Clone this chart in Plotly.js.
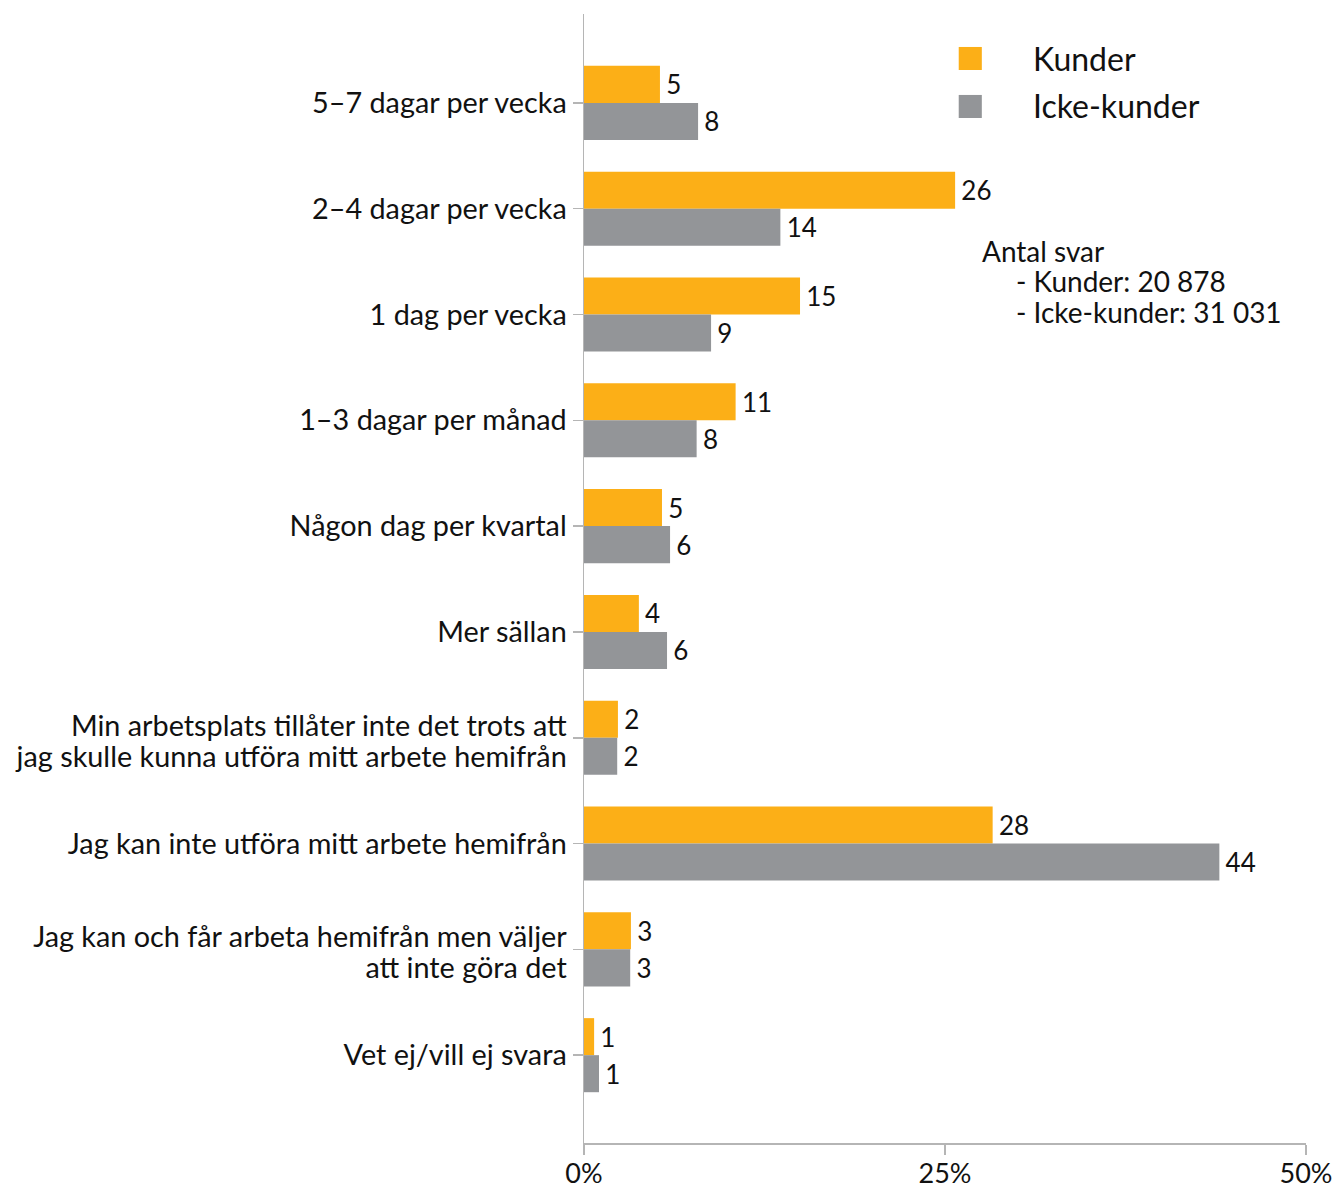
<!DOCTYPE html>
<html>
<head>
<meta charset="utf-8">
<script src="https://cdn.plot.ly/plotly-3.0.1.min.js"></script>
<style>html,body{margin:0;padding:0;background:#fff;}#chart{width:1335px;height:1188px;}</style>
</head>
<body>
<div id="chart"></div>
<script>
const categories = [
  "5–7 dagar per vecka",
  "2–4 dagar per vecka",
  "1 dag per vecka",
  "1–3 dagar per månad",
  "Någon dag per kvartal",
  "Mer sällan",
  "Min arbetsplats tillåter inte det trots att<br>jag skulle kunna utföra mitt arbete hemifrån",
  "Jag kan inte utföra mitt arbete hemifrån",
  "Jag kan och får arbeta hemifrån men väljer<br>att inte göra det",
  "Vet ej/vill ej svara"
];
const kunderValues = [5.26, 25.7, 14.96, 10.5, 5.4, 3.8, 2.35, 28.3, 3.25, 0.7];
const ickeValues   = [7.9, 13.6, 8.8, 7.8, 5.96, 5.75, 2.3, 44.0, 3.2, 1.04];
const kunderLabels = [5, 26, 15, 11, 5, 4, 2, 28, 3, 1];
const ickeLabels   = [8, 14, 9, 8, 6, 6, 2, 44, 3, 1];
const xTickVals = [0, 25, 50];
const xTickText = ["0%", "25%", "50%"];
const seriesNames = ["Kunder", "Icke-kunder"];
const noteLines = ["Antal svar", "- Kunder: 20 878", "- Icke-kunder: 31 031"];

const ORANGE = "#FCAF17";
const GREY = "#939598";
const AXIS = "#b5b5b5";
const FONT = "Lato, 'Open Sans', sans-serif";

const traces = [
  {
    type: "bar", orientation: "h", name: seriesNames[0],
    y: categories, x: kunderValues,
    text: kunderLabels.map(v => "\u2009" + v), textposition: "outside",
    textfont: {size: 26, color: "#111", family: FONT},
    marker: {color: ORANGE}, cliponaxis: false, constraintext: "none",
    hoverinfo: "x+y", showlegend: false
  },
  {
    type: "bar", orientation: "h", name: seriesNames[1],
    y: categories, x: ickeValues,
    text: ickeLabels.map(v => "\u2009" + v), textposition: "outside",
    textfont: {size: 26, color: "#111", family: FONT},
    marker: {color: GREY}, cliponaxis: false, constraintext: "none",
    hoverinfo: "x+y", showlegend: false
  }
];

const layout = {
  width: 1335, height: 1188,
  margin: {l: 584, r: 29, t: 14, b: 45, pad: 0},
  paper_bgcolor: "#fff", plot_bgcolor: "#fff",
  font: {family: FONT, size: 28, color: "#111"},
  barmode: "group", bargap: 0.3, bargroupgap: 0,
  showlegend: false,
  xaxis: {
    range: [0, 50], tickvals: xTickVals, ticktext: xTickText,
    showgrid: false, zeroline: false, showline: true, linecolor: AXIS, linewidth: 1.5,
    ticks: "outside", ticklen: 10, tickcolor: AXIS, tickwidth: 1.5,
    ticklabelstandoff: -4,
    tickfont: {size: 27, color: "#111"}, fixedrange: true
  },
  yaxis: {
    type: "category", categoryorder: "array", categoryarray: categories,
    range: [9.83, -0.84],
    showgrid: false, zeroline: false, showline: true, linecolor: AXIS, linewidth: 1.5,
    ticks: "outside", ticklen: 10, tickcolor: AXIS, tickwidth: 1.5,
    tickfont: {size: 28.8, color: "#111"}, fixedrange: true
  },
  shapes: [
    {type: "rect", xref: "paper", yref: "paper", x0: 0.519, x1: 0.551, y0: 0.9504, y1: 0.9708, fillcolor: ORANGE, line: {width: 0}},
    {type: "rect", xref: "paper", yref: "paper", x0: 0.519, x1: 0.551, y0: 0.9079, y1: 0.9283, fillcolor: GREY, line: {width: 0}}
  ],
  annotations: [
    {xref: "paper", yref: "paper", x: 0.619, y: 0.961, xanchor: "left", yanchor: "middle", text: seriesNames[0], showarrow: false, font: {size: 32, color: "#111"}},
    {xref: "paper", yref: "paper", x: 0.619, y: 0.919, xanchor: "left", yanchor: "middle", text: seriesNames[1], showarrow: false, font: {size: 32, color: "#111"}},
    {xref: "paper", yref: "paper", x: 0.549, y: 0.7905, xanchor: "left", yanchor: "middle", text: noteLines[0], showarrow: false, font: {size: 28, color: "#111"}},
    {xref: "paper", yref: "paper", x: 0.595, y: 0.7636, xanchor: "left", yanchor: "middle", text: noteLines[1], showarrow: false, font: {size: 28, color: "#111"}},
    {xref: "paper", yref: "paper", x: 0.595, y: 0.7362, xanchor: "left", yanchor: "middle", text: noteLines[2], showarrow: false, font: {size: 28, color: "#111"}}
  ]
};

Plotly.newPlot("chart", traces, layout, {displayModeBar: false, staticPlot: true}).then(() => {
  // tighten line spacing of two-line category labels
  document.querySelectorAll("#chart .yaxislayer-above .ytick text").forEach(t => {
    const lines = t.querySelectorAll("tspan.line");
    if (lines.length === 2) {
      const shift = 0.226;
      lines[0].setAttribute("dy", shift + "em");
      if (!lines[1].hasAttribute("y")) {
        const d = parseFloat(lines[1].getAttribute("dy")) || 1.3;
        lines[1].setAttribute("dy", (d - shift) + "em");
      }
    }
  });
});
</script>
</body>
</html>
